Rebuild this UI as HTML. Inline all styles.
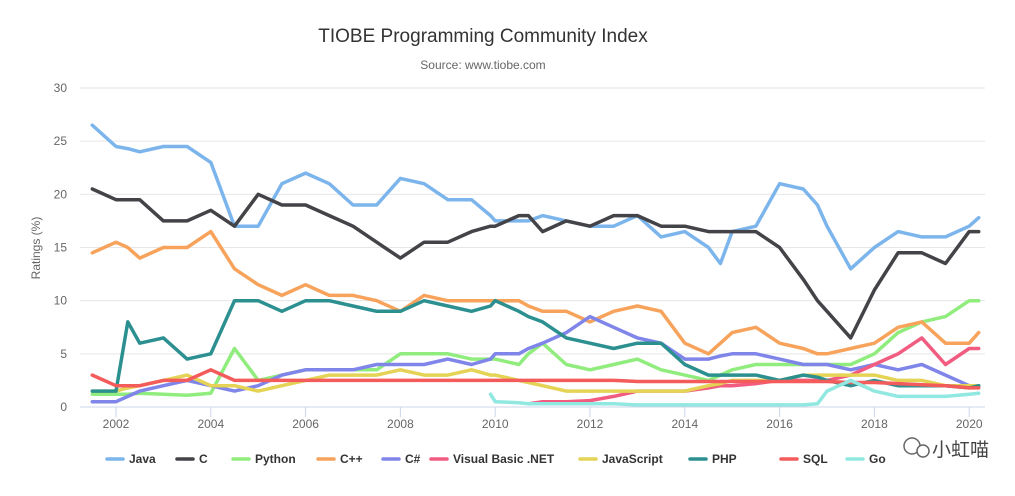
<!DOCTYPE html>
<html><head><meta charset="utf-8">
<style>
body{margin:0;background:#fff;width:1015px;height:491px;overflow:hidden;font-family:"Liberation Sans","Noto Sans CJK SC",sans-serif}
svg text{font-family:"Liberation Sans","Noto Sans CJK SC",sans-serif}
</style></head>
<body>
<svg id="chart" width="1015" height="491" xmlns="http://www.w3.org/2000/svg">
<text x="483" y="42" text-anchor="middle" font-size="19" fill="#333">TIOBE Programming Community Index</text>
<text x="483" y="69" text-anchor="middle" font-size="12" fill="#666">Source: www.tiobe.com</text>
<text x="40" y="248" text-anchor="middle" font-size="12" fill="#666" transform="rotate(-90 40 248)">Ratings (%)</text>
<g id="grid"></g><g id="series"></g><g id="legend"></g>
<g>
<rect x="898" y="430" width="95" height="36" fill="#fff"/>
<circle cx="912" cy="446" r="8" fill="none" stroke="#666" stroke-width="1.5"/>
<circle cx="923" cy="451" r="6" fill="#fff" stroke="#666" stroke-width="1.5"/>
<text x="932" y="456" font-size="19" fill="#444">小虹喵</text>
</g>
</svg>
<script>
const years=[2001.5,2002,2002.25,2002.5,2003,2003.5,2004,2004.5,2005,2005.5,2006,2006.5,2007,2007.5,2008,2008.5,2009,2009.5,2009.9,2010,2010.5,2010.7,2011,2011.5,2012,2012.5,2013,2013.5,2014,2014.5,2014.75,2015,2015.5,2016,2016.5,2016.8,2017,2017.5,2018,2018.5,2019,2019.5,2020,2020.2];
const javaVals=[26.5,24.5,24.3,24,24.5,24.5,23,17,17,21,22,21,19,19,21.5,21,19.5,19.5,18,17.5,17.5,17.5,18,17.5,17,17,18,16,16.5,15,13.5,16.5,17,21,20.5,19,17,13,15,16.5,16,16,17,17.8];
const cVals=[20.5,19.5,19.5,19.5,17.5,17.5,18.5,17,20,19,19,18,17,15.5,14,15.5,15.5,16.5,17,17,18,18,16.5,17.5,17,18,18,17,17,16.5,16.5,16.5,16.5,15,12,10,9,6.5,11,14.5,14.5,13.5,16.5,16.5];
const pythonVals=[1.2,1.2,1.2,1.3,1.2,1.1,1.3,5.5,2.5,3,3.5,3.5,3.5,3.5,5,5,5,4.5,4.5,4.5,4,5,6,4,3.5,4,4.5,3.5,3,2.5,3,3.5,4,4,4,4,4,4,5,7,8,8.5,10,10];
const cppVals=[14.5,15.5,15,14,15,15,16.5,13,11.5,10.5,11.5,10.5,10.5,10,9,10.5,10,10,10,10,10,9.5,9,9,8,9,9.5,9,6,5,6,7,7.5,6,5.5,5,5,5.5,6,7.5,8,6,6,7];
const csharpVals=[0.5,0.5,1,1.5,2,2.5,2,1.5,2,3,3.5,3.5,3.5,4,4,4,4.5,4,4.5,5,5,5.5,6,7,8.5,7.5,6.5,6,4.5,4.5,4.8,5,5,4.5,4,4,4,3.5,4,3.5,4,3,2,2];
const vbVals=[null,null,null,null,null,null,null,null,null,null,null,null,null,null,null,null,null,null,null,null,null,0.3,0.5,0.5,0.6,1,1.5,1.5,1.5,1.8,2,2,2.2,2.5,2.5,2.5,2.5,3,4,5,6.5,4,5.5,5.5];
const jsVals=[1.5,1.5,1.8,2,2.5,3,2,2,1.5,2,2.5,3,3,3,3.5,3,3,3.5,3,3,2.5,2.3,2,1.5,1.5,1.5,1.5,1.5,1.5,2,2.2,2.5,2.5,2.5,3,3,3,3,3,2.5,2.5,2,2,2];
const phpVals=[1.5,1.5,8,6,6.5,4.5,5,10,10,9,10,10,9.5,9,9,10,9.5,9,9.5,10,9,8.5,8,6.5,6,5.5,6,6,4,3,3,3,3,2.5,3,2.8,2.5,2,2.5,2,2,2,1.8,2];
const sqlVals=[3,2,2,2,2.5,2.5,3.5,2.5,2.5,2.5,2.5,2.5,2.5,2.5,2.5,2.5,2.5,2.5,2.5,2.5,2.5,2.5,2.5,2.5,2.5,2.5,2.4,2.4,2.4,2.4,2.4,2.4,2.4,2.4,2.4,2.4,2.4,2.3,2.3,2.2,2.1,2,1.8,1.8];
const goVals=[null,null,null,null,null,null,null,null,null,null,null,null,null,null,null,null,null,null,1.2,0.5,0.4,0.3,0.3,0.3,0.3,0.3,0.2,0.2,0.2,0.2,0.2,0.2,0.2,0.2,0.2,0.3,1.5,2.5,1.5,1,1,1,1.2,1.3];
const yTicks=[0,5,10,15,20,25,30];
const xTicks=[2002,2004,2006,2008,2010,2012,2014,2016,2018,2020];
const seriesNames=["Java","C","Python","C++","C#","Visual Basic .NET","JavaScript","PHP","SQL","Go"];
const seriesData=[javaVals,cVals,pythonVals,cppVals,csharpVals,vbVals,jsVals,phpVals,sqlVals,goVals];
const colors=["#7cb5ec","#434348","#90ed7d","#f7a35c","#8085e9","#f15c80","#e4d354","#2b908f","#f45b5b","#91e8e1"];
const NS="http://www.w3.org/2000/svg";
const X=y=>116+(y-2002)*47.4;
const Y=v=>407-v*(319/30);
function mk(t,a,p){const e=document.createElementNS(NS,t);for(const k in a)e.setAttribute(k,a[k]);p.appendChild(e);return e;}
const grid=document.getElementById('grid');
yTicks.forEach(v=>{
  const l=mk('line',{x1:80,x2:985,y1:Y(v),y2:Y(v),stroke:v===0?'#ccd6eb':'#e6e6e6','stroke-width':1},grid);
  
  
  const t=mk('text',{x:67,y:Y(v)+4,'text-anchor':'end','font-size':12,fill:'#666'},grid);
  t.textContent=v;
  
  
});
xTicks.forEach(v=>{
  const l=mk('line',{x1:X(v),x2:X(v),y1:407,y2:417,stroke:'#ccd6eb'},grid);
  
  
  const t=mk('text',{x:X(v),y:428,'text-anchor':'middle','font-size':12,fill:'#666'},grid);
  t.textContent=v;
  
  
});
const sg=document.getElementById('series');
seriesData.forEach((vals,i)=>{
  let d='',pen=false;
  vals.forEach((v,j)=>{
    if(v===null){pen=false;return;}
    d+=(pen?'L':'M')+X(years[j]).toFixed(1)+','+Y(v).toFixed(1);pen=true;
  });
  const p=mk('path',{d:d,fill:'none',stroke:colors[i],'stroke-width':3.5,'stroke-linejoin':'round','stroke-linecap':'round'},sg);
  
  
});
const lg=document.getElementById('legend');
const lx=[107,177,233,318,383,431,580,690,781,847];
seriesNames.forEach((n,i)=>{
  const g=mk('g',{},lg);
  
  
  mk('line',{x1:lx[i],x2:lx[i]+16,y1:459,y2:459,stroke:colors[i],'stroke-width':3.5,'stroke-linecap':'round'},g);
  const t=mk('text',{x:lx[i]+22,y:463,'font-size':12,'font-weight':'bold',fill:'#333'},g);
  t.textContent=n;
});
</script>
</body></html>
